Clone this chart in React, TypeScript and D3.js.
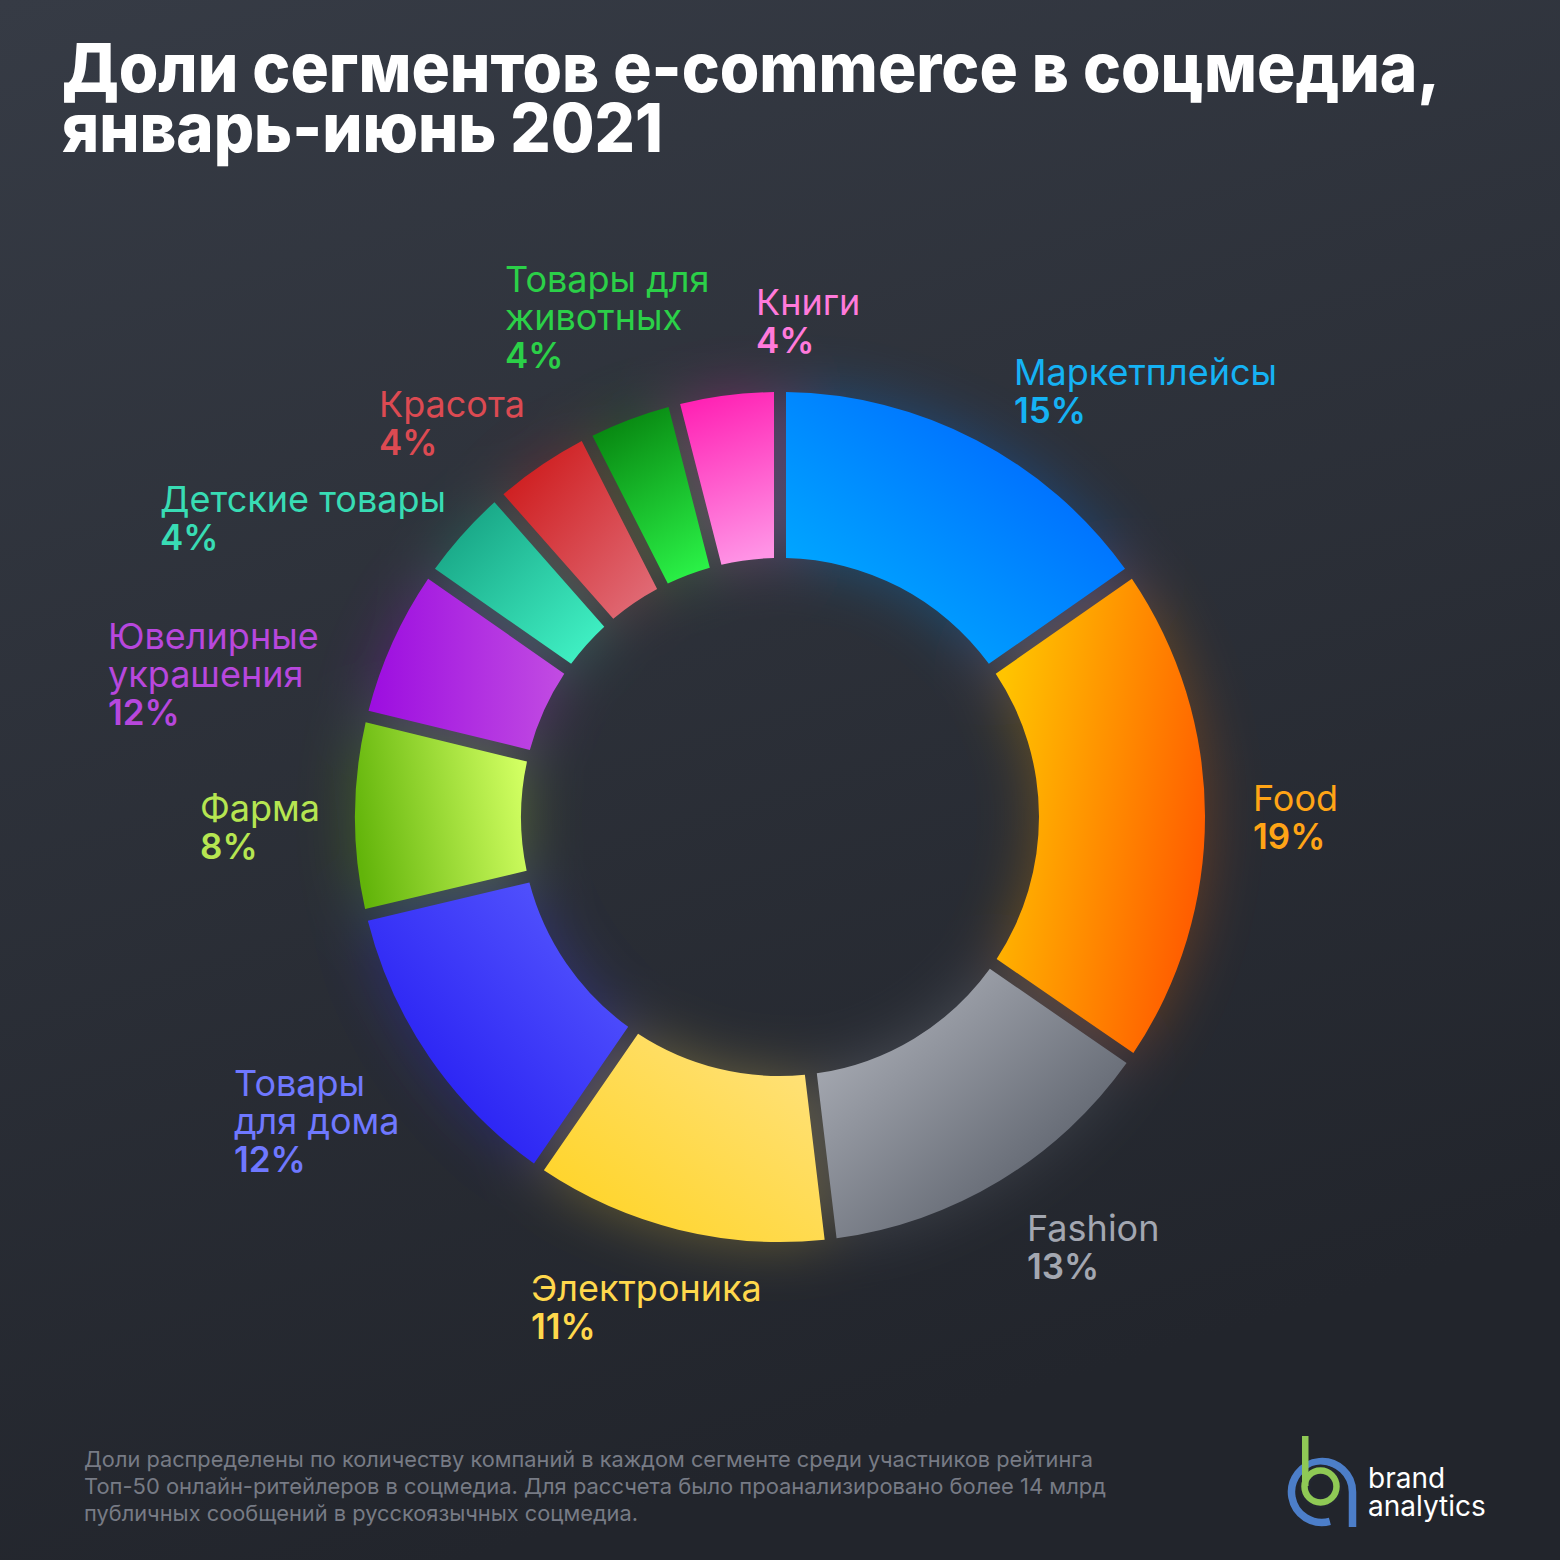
import React from "react";
import * as d3 from "d3";

const categories = [
  ["Маркетплейсы"],
  ["Food"],
  ["Fashion"],
  ["Электроника"],
  ["Товары", "для дома"],
  ["Фарма"],
  ["Ювелирные", "украшения"],
  ["Детские товары"],
  ["Красота"],
  ["Товары для", "животных"],
  ["Книги"],
];
// arc sizes as drawn in the picture (share of circle, %)
const arcValues = [15.3, 19.3, 13.5, 11.5, 11.7, 7.5, 5.9, 3.8, 4.0, 3.5, 4.0];
// percentage labels as printed
const pctLabels = ["15%", "19%", "13%", "11%", "12%", "8%", "12%", "4%", "4%", "4%", "4%"];
const labelColors = ["#15b2f4", "#ffa416", "#a3a7b1", "#ffd84c", "#6f78ff", "#b6e651", "#b747dd", "#38dcb4", "#dc4a52", "#2bd048", "#ff7adb"];
const gradStops = [
  ["#00b8ff", "#0058ff"],
  ["#ffc400", "#ff5800"],
  ["#b8bbc3", "#474d58"],
  ["#ffd21c", "#ffe384"],
  ["#1a0ff0", "#5c5fff"],
  ["#62b40a", "#d2ff62"],
  ["#9c0de0", "#c24ce2"],
  ["#129a7c", "#44f8ca"],
  ["#cc1212", "#e2727e"],
  ["#078510", "#2af046"],
  ["#ff22b4", "#ff94e6"],
];
// gradient directions (x1,y1,x2,y2 in bbox units)
const gradDirs = [
  [0, 1, 1, 0],
  [0, 0.3, 1, 0.7],
  [0, 0, 1, 1],
  [0, 1, 1, 0],
  [0, 1, 1, 0],
  [0, 0.6, 1, 0.4],
  [0, 0.5, 1, 0.5],
  [0, 0, 1, 1],
  [0, 0, 1, 1],
  [0.3, 0, 0.7, 1],
  [0.4, 0, 0.6, 1],
];
const labelPos = [
  [1014, 385], [1253, 811], [1027, 1241], [531, 1301], [234, 1096], [200, 821],
  [108, 649], [160, 512], [379, 417], [505, 292], [756, 315],
];
const titleLines = ["Доли сегментов e-commerce в соцмедиа,", "январь-июнь 2021"];
const titleWidths = [1378, 601];
const footnote = [
  "Доли распределены по количеству компаний в каждом сегменте среди участников рейтинга",
  "Топ-50 онлайн-ритейлеров в соцмедиа. Для рассчета было проанализировано более 14 млрд",
  "публичных сообщений в русскоязычных соцмедиа.",
];
const footWidths = [1009, 1022, 554];

export default function App() {
  const W = 1560, H = 1560;
  const cx = 780, cy = 817, R = 425, r0 = 259;
  const pie = d3.pie<number>().sort(null).value((d) => d);
  const arcs = pie(arcValues);
  const arc = d3.arc<d3.PieArcDatum<number>>()
    .innerRadius(r0).outerRadius(R).padAngle(12 / R).padRadius(R);
  const font = "Inter, 'Noto Sans', sans-serif";
  const bcx = 1322, bcy = 1492, br = 30.5;
  const a165 = (165 * Math.PI) / 180;
  const blueEndX = bcx + br * Math.sin(a165);
  const blueEndY = bcy - br * Math.cos(a165);
  return (
    <svg width={W} height={H} style={{ display: "block", position: "absolute", left: 0, top: 0 }}>
      <defs>
        <linearGradient id="bg" x1="0" y1="0" x2="0.3" y2="1">
          <stop offset="0" stopColor="#363b45" />
          <stop offset="1" stopColor="#22252c" />
        </linearGradient>
        {gradStops.map((g, i) => (
          <linearGradient key={i} id={`g${i}`} x1={gradDirs[i][0]} y1={gradDirs[i][1]} x2={gradDirs[i][2]} y2={gradDirs[i][3]}>
            <stop offset="0" stopColor={g[0]} />
            <stop offset="1" stopColor={g[1]} />
          </linearGradient>
        ))}
        <filter id="blur" x="-50%" y="-50%" width="200%" height="200%">
          <feGaussianBlur stdDeviation="30" />
        </filter>
      </defs>
      <rect x={0} y={0} width={W} height={H} fill="url(#bg)" />
      <g transform={`translate(${cx},${cy})`}>
        <g filter="url(#blur)" opacity={0.3}>
          {arcs.map((a, i) => (
            <path key={i} d={arc(a) || ""} fill={`url(#g${i})`} />
          ))}
        </g>
        {arcs.map((a, i) => (
          <path key={i} d={arc(a) || ""} fill={`url(#g${i})`} />
        ))}
      </g>
      <g fontFamily={font} fill="#ffffff" fontWeight={800} fontSize={68}>
        {titleLines.map((t, i) => (
          <text key={i} x={62} y={92 + i * 60} textLength={titleWidths[i]} lengthAdjust="spacingAndGlyphs">{t}</text>
        ))}
      </g>
      <g fontFamily={font}>
        {categories.map((lines, i) => (
          <text key={i} x={labelPos[i][0]} y={labelPos[i][1]} fill={labelColors[i]} fontSize={36}>
            {lines.map((l, j) => (
              <tspan key={j} x={labelPos[i][0]} y={labelPos[i][1] + j * 38}>{l}</tspan>
            ))}
            <tspan x={labelPos[i][0]} y={labelPos[i][1] + lines.length * 38} fontWeight={600} fontSize={35}>{pctLabels[i]}</tspan>
          </text>
        ))}
      </g>
      <g fontFamily={font} fontSize={22} fill="#777b85">
        {footnote.map((t, i) => (
          <text key={i} x={84} y={1467 + i * 27} textLength={footWidths[i]} lengthAdjust="spacingAndGlyphs">{t}</text>
        ))}
      </g>
      <g fill="none" strokeLinecap="butt">
        <path
          d={`M ${bcx + br} ${bcy + 35} L ${bcx + br} ${bcy} A ${br} ${br} 0 1 0 ${blueEndX} ${blueEndY}`}
          stroke="#4c7ec9" strokeWidth={7.5}
        />
        <circle cx={1320.5} cy={1486.5} r={16} stroke="#232630" strokeWidth={12} />
        <circle cx={1320.5} cy={1486.5} r={16} stroke="#8fc955" strokeWidth={6.5} />
        <rect x={1302} y={1436} width={6.5} height={50} fill="#8fc955" />
      </g>
      <g fontFamily={font} fontSize={28} fill="#ffffff">
        <text x={1368} y={1488}>brand</text>
        <text x={1368} y={1516}>analytics</text>
      </g>
    </svg>
  );
}
